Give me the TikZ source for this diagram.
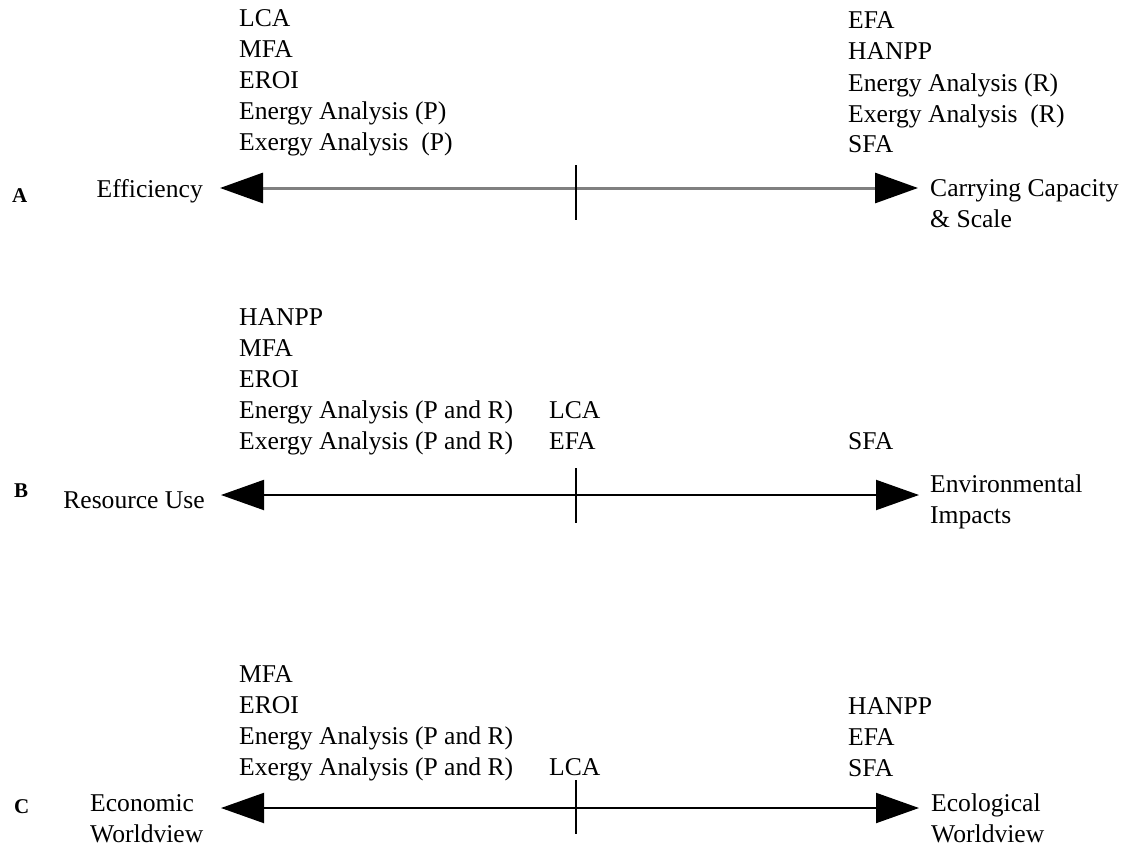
\documentclass[tikz,border=0pt]{standalone}
\usepackage{fontspec}
\setmainfont{Liberation Serif}
\usetikzlibrary{arrows.meta}

\begin{document}
\begin{tikzpicture}[x=1pt,y=-1pt,
    lbl/.style={font=\fontsize{25.6}{31}\selectfont, align=left, anchor=base west, inner sep=0pt},
    endlbl/.style={lbl, anchor=base east, align=right},
    panel/.style={font=\fontsize{21}{25}\selectfont\bfseries, anchor=base west, inner sep=0pt},
    axis/.style={line width=2pt, {Triangle[length=43pt,width=30pt,color=black]}-{Triangle[length=43pt,width=30pt,color=black]}},
    tick/.style={line width=2pt}]
  \useasboundingbox (0,0) rectangle (1129,848);

  % A: efficiency vs carrying capacity
  \node[panel] (aTag) at (12,202) {A};
  \node[endlbl] (aLeft) at (203,197) {Efficiency};
  \node[lbl] (aRight) at (930,227) {Carrying Capacity\\\& Scale};
  \node[lbl] (aTop1) at (239,150) {LCA\\MFA\\EROI\\Energy Analysis (P)\\Exergy Analysis\ \ (P)};
  \node[lbl] (aTop2) at (848,153) {EFA\\HANPP\\Energy Analysis (R)\\Exergy Analysis\ \ (R)\\SFA};
  \coordinate (aL) at (220,188);
  \coordinate (aR) at (918,188);
  \coordinate (aT) at (576,165);
  \coordinate (aB) at (576,220);
  \draw[axis, line width=3pt, gray] (aL) -- (aR);
  \draw[tick] (aT) -- (aB);

  % B: resource use vs environmental impacts
  \node[panel] (bTag) at (14,497) {B};
  \node[endlbl] (bLeft) at (205,508) {Resource Use};
  \node[lbl] (bRight) at (930,523) {Environmental\\Impacts};
  \node[lbl] (bTop1) at (239,449) {HANPP\\MFA\\EROI\\Energy Analysis (P and R)\\Exergy Analysis (P and R)};
  \node[lbl] (bTop2) at (549,449) {LCA\\EFA};
  \node[lbl] (bTop3) at (848,449) {SFA};
  \coordinate (bL) at (221,495);
  \coordinate (bR) at (919,495);
  \coordinate (bT) at (576,468);
  \coordinate (bB) at (576,523);
  \draw[axis] (bL) -- (bR);
  \draw[tick] (bT) -- (bB);

  % C: economic vs ecological worldview
  \node[panel] (cTag) at (14,813) {C};
  \node[lbl] (cLeft) at (90,842) {Economic\\Worldview};
  \node[lbl] (cRight) at (931,842) {Ecological\\Worldview};
  \node[lbl] (cTop1) at (239,775) {MFA\\EROI\\Energy Analysis (P and R)\\Exergy Analysis (P and R)};
  \node[lbl] (cTop2) at (549,775) {LCA};
  \node[lbl] (cTop3) at (848,776) {HANPP\\EFA\\SFA};
  \coordinate (cL) at (221,808);
  \coordinate (cR) at (919,808);
  \coordinate (cT) at (576,780);
  \coordinate (cB) at (576,834);
  \draw[axis] (cL) -- (cR);
  \draw[tick] (cT) -- (cB);
\end{tikzpicture}
\end{document}
